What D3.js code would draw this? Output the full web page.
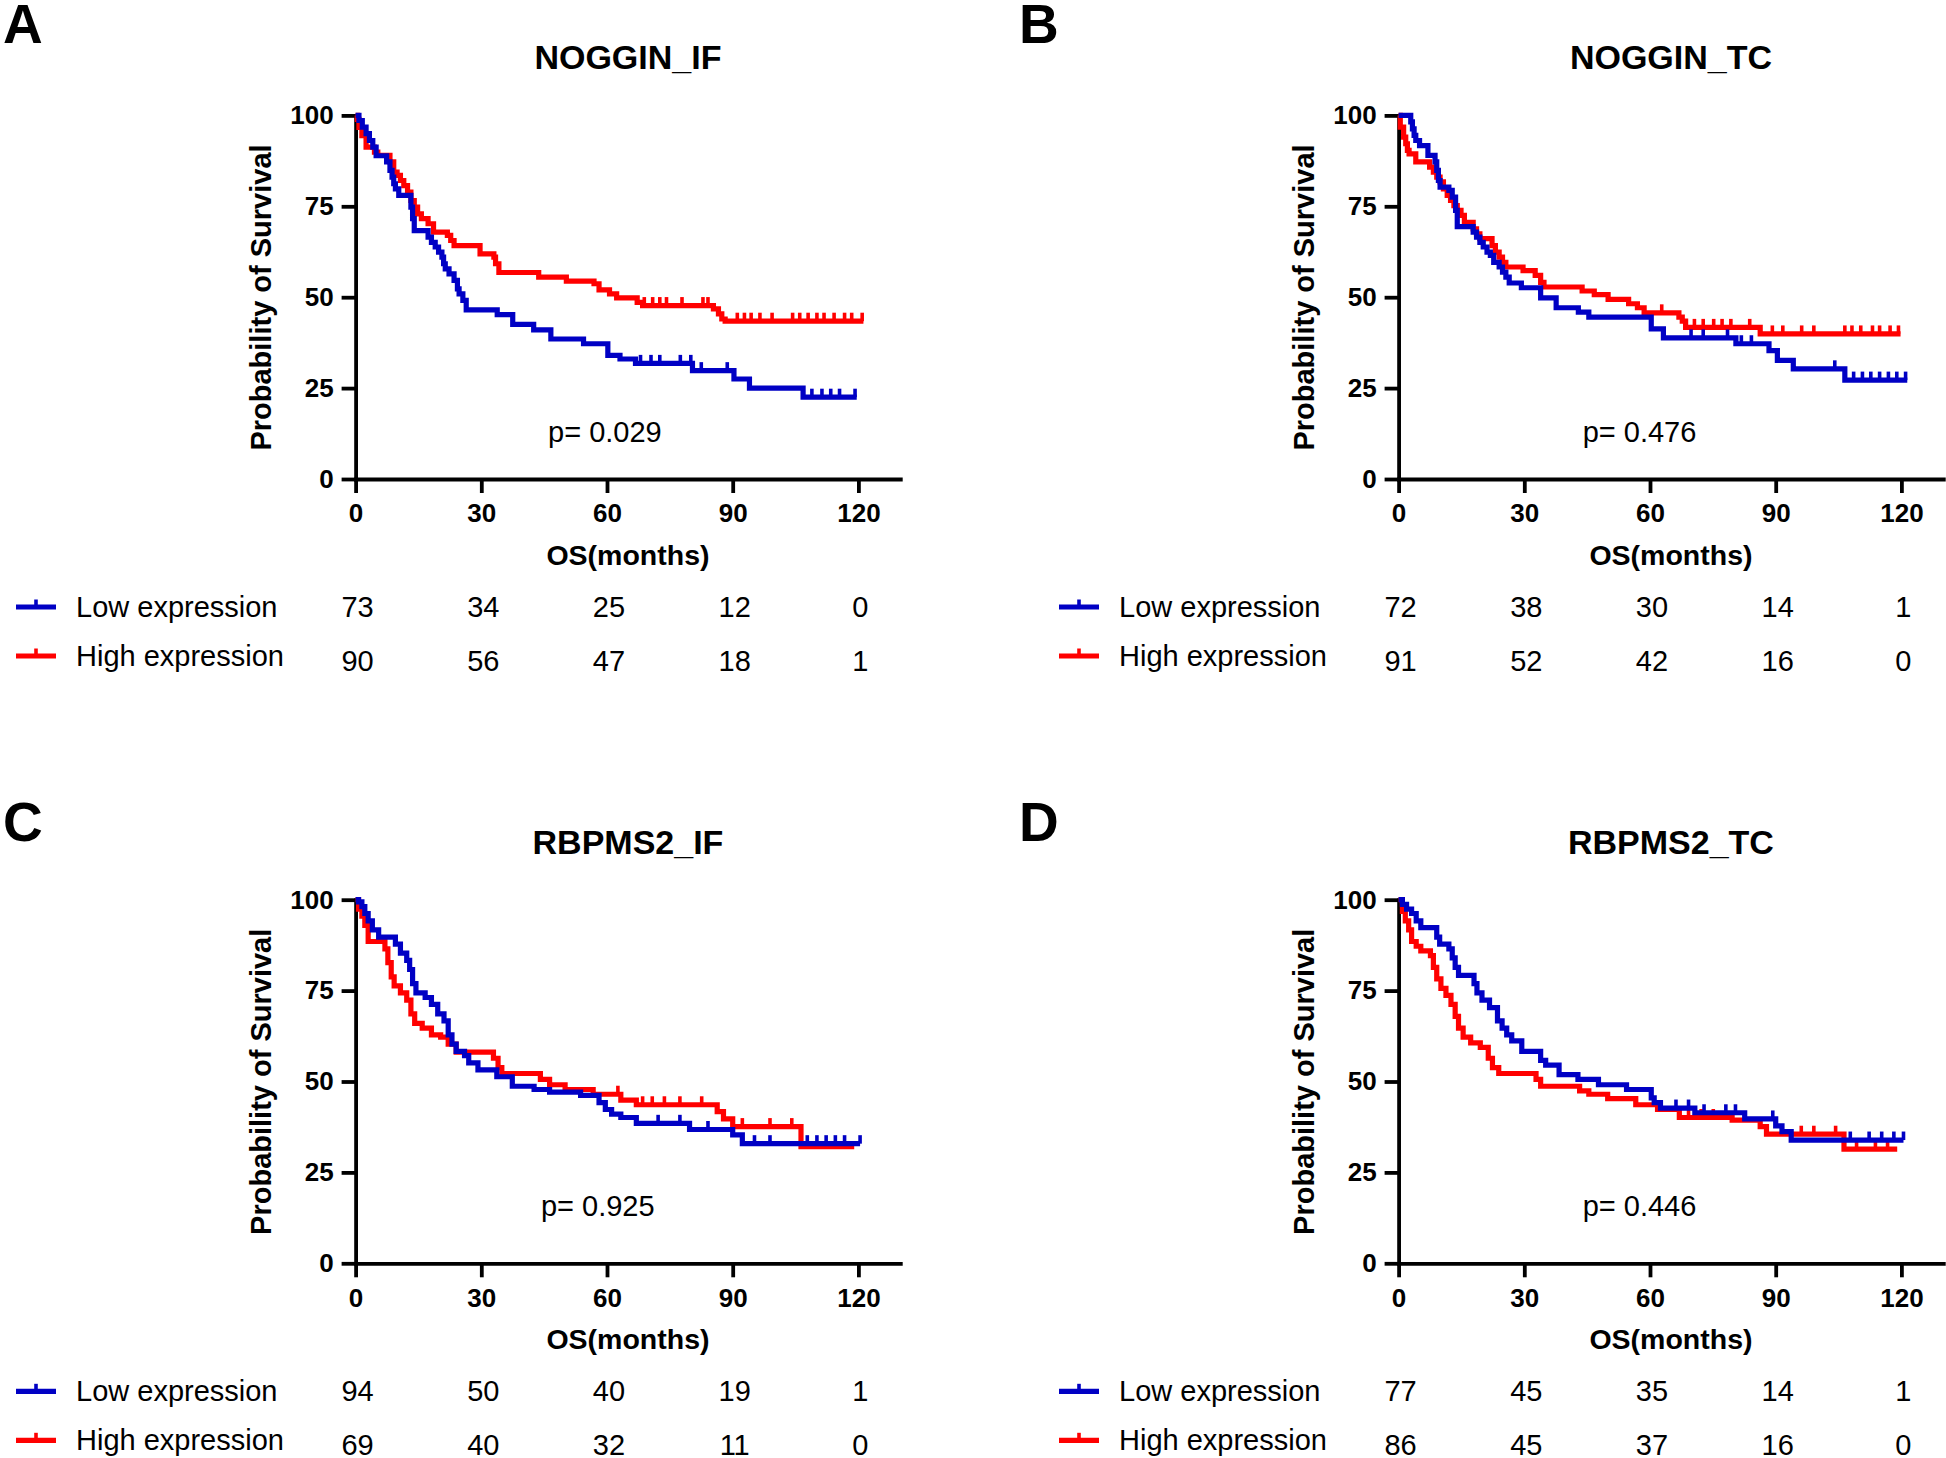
<!DOCTYPE html>
<html><head><meta charset="utf-8">
<script src="https://cdn.jsdelivr.net/npm/d3@7"></script>
<style>
body{margin:0;background:#fff}
svg{display:block}
text{font-family:"Liberation Sans",Arial,Helvetica,sans-serif;fill:#000}
</style>
</head><body>
<svg id="chart" width="1946" height="1458"></svg>
<script>
// ---------- data ----------
const timeTicks = [0, 30, 60, 90, 120];
const survTicks = [0, 25, 50, 75, 100];
const panelLetters = ["A", "B", "C", "D"];
const panelTitles = ["NOGGIN_IF", "NOGGIN_TC", "RBPMS2_IF", "RBPMS2_TC"];
const pValues = ["0.029", "0.476", "0.925", "0.446"];
const groupNames = ["Low expression", "High expression"];
const riskLow  = [[73, 34, 25, 12, 0], [72, 38, 30, 14, 1], [94, 50, 40, 19, 1], [77, 45, 35, 14, 1]];
const riskHigh = [[90, 56, 47, 18, 1], [91, 52, 42, 16, 0], [69, 40, 32, 11, 0], [86, 45, 37, 16, 0]];
const lowEnd  = [119.6, 121.4, 120.4, 120.5];
const highEnd = [121.2, 119.8, 119.0, 119.0];

// Panel A
const A_lowT = [0,0.8,1.6,2.5,3.3,4.1,4.9,7.4,8.2,8.7,9.1,9.5,10.3,13.2,13.6,14,17.3,18.1,19,19.8,20.6,21,21.4,22.3,23.5,24.3,24.7,25.6,26.4,33.8,37.5,42.5,46.6,54.4,60.2,63.1,66.8,80.4,90.3,94,106.8];
const A_lowS = [100,98.6,96.8,95,93.1,91.3,88.9,87.2,84.9,83,81.2,79.8,78,74.8,71.6,68.3,66.5,65.1,63.8,62.4,61,59.2,57.8,56.4,54.6,52.3,50.9,49.1,46.5,45.2,42.5,41,38.5,37.2,34,33,31.8,29.8,27.5,25,22.5];
const A_lowC = [68,70.5,72.6,77.5,80,82.5,88.7,108.9,111.3,113.4,115.5,119.2];
const A_highT = [0,0.4,0.8,1.5,2.5,4.5,5.3,8.2,9.1,9.9,10.7,11.5,12.4,13.2,14,14.8,15.7,17.3,18.6,21.9,22.7,23.5,29.7,33,33.4,34.2,43.7,50.3,56.9,58.1,60.6,62.3,67.2,68.5,85.4,86.6,87.4,88.2];
const A_highS = [100,98.9,96.7,94.4,91.3,89.9,89,87.2,84.4,83.5,82.1,80.7,78.9,76.6,74.8,72.9,71.6,70.2,67.9,67,65.6,64.2,61.9,61,59.2,56.8,55.5,54.4,53.7,52,50.9,49.8,48.6,47.7,46.8,45.4,44,43.4];
const A_highC = [68.9,70.9,72.6,74.2,77.9,82.9,84.1,91.1,92.8,94.4,96.5,99.4,104.3,106,108,110.1,111.8,114.2,116.7,118.4,120.9];

// Panel B
const B_lowT = [0,2.9,3.3,3.7,4.1,5,7,8.7,9.1,9.5,9.9,12,12.8,13.6,14,17.8,18.6,19.4,20.2,21.1,21.9,22.7,24,24.8,25.6,26.4,29.3,33.9,37.6,42.9,45.4,60.3,63.2,80.5,88.4,90.4,94.2,106.5];
const B_lowS = [100,98.2,96.3,94.5,93.1,91.7,89,87.2,84.9,82.1,80.3,79.4,77.5,73.9,69.4,67.9,66.5,65.1,63.8,62.4,61.5,59.6,58.3,56.9,55.5,53.9,52.6,49.8,47.1,45.9,44.5,41.3,38.8,37.2,35.3,32.6,30.3,27.2];
const B_lowC = [69.8,72.7,78.5,81.8,84.2,104.1,108.6,110.7,112.7,114.8,116.9,118.9,121];
const B_highT = [0,0.4,1.2,1.7,2.1,2.5,4.1,7.4,8.3,9.1,9.9,10.7,11.6,12.4,13.2,14,14.9,15.7,17.8,18.6,19.4,22.3,23.1,24,24.8,25.6,29.7,32.6,33.9,34.7,43.8,46.7,50,54.9,57,58.6,66.9,67.7,68.5,86.3];
const B_highS = [100,96.8,94,92.2,90.4,89.4,87.2,85.8,84.4,83,81.7,79.8,78,76.6,75.2,73.9,72.5,70.6,68.8,67.4,66.1,64.2,62.4,61,59.6,58.3,57.3,56,54.1,52.8,51.7,50.7,49.4,48.2,47.1,45.7,44.5,43.4,41.7,39.9];
const B_highC = [62.8,70.6,72.7,75.2,77.2,79.3,83.8,89.2,91.7,96.2,99.1,106.5,108.2,110.3,113.1,114.8,117.3,119.3];

// Panel C
const C_lowT = [0,0.7,1.5,2.2,3,4,5.5,9.5,10.7,12.2,12.9,13.6,14.4,16.6,18.1,19.6,21.1,22.1,23,24,26,27,29.2,33.7,37.4,42.6,46.3,53.7,58.1,59.6,61.1,63.3,67,79.7,90,92.3];
const C_lowS = [100,99.4,98.1,96.2,94.2,91.7,89.7,87.8,85.3,83.3,80.8,76.9,74.4,73.1,71.2,68.6,66.7,62.8,60.3,58.3,57.1,55.1,53.2,51.3,48.7,47.8,47.1,46.2,44.2,42.3,41,40.1,38.5,36.8,35.3,32.9];
const C_lowC = [72.2,77.4,84.1,95.2,98.9,107.8,110.1,112.3,114.5,116.7,120.4];
const C_highT = [0,0.7,1.5,2.2,3,7,7.7,8.5,9.2,10.7,12.2,13.2,14.1,15.9,18.1,20.3,22.1,24,32.9,34,34.9,44.1,46.3,50,56.7,63.3,67,86.3,87.8,90,106.3];
const C_highS = [100,97.4,95.5,92.9,88.5,86.5,82.7,78.8,76.3,74.4,72.4,68.6,66,64.7,62.8,62.2,60.3,58.1,56.4,53.8,52.2,50.6,49.1,47.8,46.5,44.9,43.6,41.7,39.7,37.6,32.1];
const C_highC = [62.6,68.5,70.8,73.7,77.4,82.6,92.3,98.9,104.1];

// Panel D
const D_lowT = [0,0.9,1.9,3.1,4.2,5.3,9.1,9.8,12,12.8,13.5,14.3,18,18.7,19.9,21.7,23.6,24.7,25.8,27,29.4,33.9,35.1,38.3,42.8,47.7,54.4,60.3,61,62.5,70.7,82.6,90,91.5,93.7];
const D_lowS = [100,98.7,97.4,96.2,94.2,92.3,89.7,87.8,86.5,84,81.4,79.2,76.9,74.4,72.4,70.3,66.7,64.7,62.8,61.2,58.3,55.8,54.5,51.9,50.6,49.1,47.8,45.5,44.2,42.7,41.4,39.7,37.8,36.2,33.9];
const D_lowC = [66.2,69.2,72.9,78.1,80.4,89.3,107.8,112.3,115.3,118.2,120.5];
const D_highT = [0,0.9,1.6,2.4,3.1,4.2,5.3,7.6,8.3,9.1,10.1,11.3,12.5,13.5,14.3,15.4,17.2,19.5,21.4,22.4,23.9,32.8,33.9,43.2,45.4,49.9,56.6,61.8,67,79.6,86.3,87.8,106.3];
const D_highS = [100,96.8,94.2,91.7,88.5,87.2,85.9,84.6,81.4,78.2,75.6,73.7,71.2,67.9,64.7,62.2,60.6,59.4,56.4,53.8,52.2,50.6,48.7,47.4,46.5,45.3,43.6,42.3,40.1,39.4,37.6,35.5,31.4];
const D_highC = [69.2,72.2,75.1,96.1,99.1,104.3,109.3,113.8,116.7];

const lowT = [A_lowT, B_lowT, C_lowT, D_lowT];
const lowS = [A_lowS, B_lowS, C_lowS, D_lowS];
const lowC = [A_lowC, B_lowC, C_lowC, D_lowC];
const highT = [A_highT, B_highT, C_highT, D_highT];
const highS = [A_highS, B_highS, C_highS, D_highS];
const highC = [A_highC, B_highC, C_highC, D_highC];

// ---------- layout ----------
const BLUE = "#0000c4", RED = "#ff0000";
const colDX = [0, 1043];
const rowDY = [0, 784.3];
const letterX = [3, 1019];
const letterY = [43, 841];
const pY = [442, 1216];
const pAt = [59.5, 57.5, 57.8, 57.5];
const FONT = '"Liberation Sans",Arial,Helvetica,sans-serif';

const svg = d3.select("#chart");
svg.append("rect").attr("width", 1946).attr("height", 1458).attr("fill", "#fff");

function valueAt(T, S, t) {
  let v = S[0];
  for (let i = 0; i < T.length; i++) { if (T[i] <= t) v = S[i]; else break; }
  return v;
}

for (let p = 0; p < 4; p++) {
  const col = p % 2, row = Math.floor(p / 2);
  const dx = colDX[col], dy = rowDY[row];
  const g = svg.append("g");

  const x = d3.scaleLinear().domain([0, 130]).range([355.6 + dx, 900.3 + dx]);
  const y = d3.scaleLinear().domain([0, 100]).range([479 + dy, 115.4 + dy]);

  // panel letter
  svg.append("text").attr("x", letterX[col]).attr("y", letterY[row])
    .attr("font-size", 55).attr("font-weight", "bold").text(panelLetters[p]);

  // title
  g.append("text").attr("x", x(65)).attr("y", 69.3 + dy).attr("text-anchor", "middle")
    .attr("font-size", 34).attr("font-weight", "bold").text(panelTitles[p]);

  // axes
  const xAxis = d3.axisBottom(x).tickValues(timeTicks).tickSize(14).tickSizeOuter(0).tickPadding(11);
  const yAxis = d3.axisLeft(y).tickValues(survTicks).tickSize(14).tickSizeOuter(0).tickPadding(8);
  const gx = g.append("g").attr("transform", `translate(0,${y(0)})`).call(xAxis);
  const gy = g.append("g").attr("transform", `translate(${x(0)},0)`).call(yAxis);
  [gx, gy].forEach(a => {
    a.attr("font-family", FONT).attr("font-size", 26).attr("font-weight", "bold");
    a.select(".domain").attr("stroke", "#000").attr("stroke-width", 3.8).attr("stroke-linecap", "square");
    a.selectAll(".tick line").attr("stroke", "#000").attr("stroke-width", 3.8);
    a.selectAll(".tick text").attr("fill", "#000");
  });

  // axis titles
  g.append("text").attr("x", x(65)).attr("y", 565 + dy).attr("text-anchor", "middle")
    .attr("font-size", 28.5).attr("font-weight", "bold").text("OS(months)");
  g.append("text").attr("transform", `translate(${271 + dx},${297.5 + dy}) rotate(-90)`)
    .attr("text-anchor", "middle").attr("font-size", 29).attr("font-weight", "bold")
    .text("Probability of Survival");

  // p value
  g.append("text").attr("x", x(pAt[p])).attr("y", pY[row]).attr("text-anchor", "middle")
    .attr("font-size", 29).text("p= " + pValues[p]);

  // curves (High first, Low on top)
  const groups = [
    {T: highT[p], S: highS[p], C: highC[p], end: highEnd[p], color: RED},
    {T: lowT[p], S: lowS[p], C: lowC[p], end: lowEnd[p], color: BLUE}
  ];
  const line = d3.line().x(d => x(d[0])).y(d => y(d[1])).curve(d3.curveStepAfter);
  groups.forEach(gr => {
    const pts = gr.T.map((t, i) => [t, gr.S[i]]);
    pts.push([gr.end, gr.S[gr.S.length - 1]]);
    g.append("path").attr("d", line(pts)).attr("fill", "none")
      .attr("stroke", gr.color).attr("stroke-width", 5.2).attr("stroke-linejoin", "miter");
    g.selectAll(null).data(gr.C).enter().append("line")
      .attr("x1", t => x(t)).attr("x2", t => x(t))
      .attr("y1", t => y(valueAt(gr.T, gr.S, t)))
      .attr("y2", t => y(valueAt(gr.T, gr.S, t)) - 8.5)
      .attr("stroke", gr.color).attr("stroke-width", 3.6);
  });

  // legend + numbers at risk
  const rowsBase = [617 + dy, 666 + dy];
  const numBase = [617 + dy, 671 + dy];
  const legColors = [BLUE, RED];
  const risks = [riskLow[p], riskHigh[p]];
  for (let r = 0; r < 2; r++) {
    const ly = rowsBase[r] - 10;
    g.append("line").attr("x1", 16 + dx).attr("x2", 56 + dx).attr("y1", ly).attr("y2", ly)
      .attr("stroke", legColors[r]).attr("stroke-width", 5.2);
    g.append("line").attr("x1", 36 + dx).attr("x2", 36 + dx).attr("y1", ly).attr("y2", ly - 7.5)
      .attr("stroke", legColors[r]).attr("stroke-width", 3.6);
    g.append("text").attr("x", 76 + dx).attr("y", rowsBase[r]).attr("font-size", 29).text(groupNames[r]);
    g.selectAll(null).data(timeTicks).enter().append("text")
      .attr("x", (t, i) => x(t) + 2).attr("y", numBase[r]).attr("text-anchor", "middle")
      .attr("font-size", 29).text((t, i) => risks[r][i]);
  }
}
</script>
</body></html>
